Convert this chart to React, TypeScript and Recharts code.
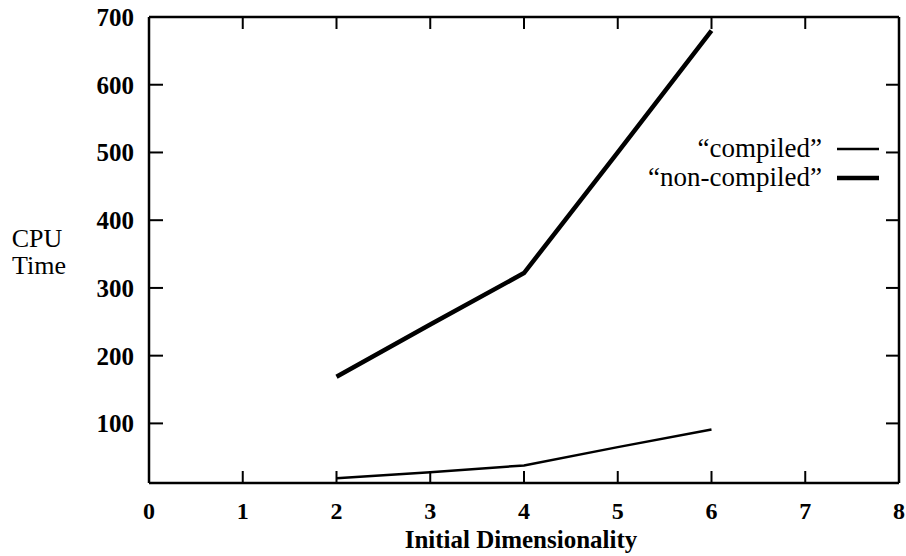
import React from 'react';
import { LineChart, Line, XAxis, YAxis } from 'recharts';

const dims = [2, 3, 4, 5, 6];
const compiled = [19, 28, 38, 65, 91];
const nonCompiled = [169, 246, 322, 500, 680];
const xTicks = [0, 1, 2, 3, 4, 5, 6, 7, 8];
const yTicks = [100, 200, 300, 400, 500, 600, 700];
const seriesNames = ['\u201Ccompiled\u201D', '\u201Cnon-compiled\u201D'];
const xTitle = 'Initial Dimensionality';
const yTitle = ['CPU', 'Time'];

const data = dims.map((d, i) => ({ dim: d, compiled: compiled[i], nonCompiled: nonCompiled[i] }));

const FONT = '"Liberation Serif", "Times New Roman", serif';

const BottomTick = (props: any) => {
  const { x, y, payload } = props;
  return (
    <g>
      <line x1={x} x2={x} y1={y} y2={y - 12} stroke="#000" strokeWidth={2} />
      <text x={x} y={y + 36} textAnchor="middle" fontFamily={FONT} fontWeight="bold" fontSize={24} fill="#000">
        {payload.value}
      </text>
    </g>
  );
};

const TopTick = (props: any) => {
  const { x, y } = props;
  return <line x1={x} x2={x} y1={y} y2={y + 12} stroke="#000" strokeWidth={2} />;
};

const LeftTick = (props: any) => {
  const { x, y, payload } = props;
  return (
    <g>
      <line x1={x} x2={x + 14} y1={y} y2={y} stroke="#000" strokeWidth={2} />
      <text x={x - 15} y={y + 9} textAnchor="end" fontFamily={FONT} fontWeight="bold" fontSize={25} fill="#000">
        {payload.value}
      </text>
    </g>
  );
};

const RightTick = (props: any) => {
  const { x, y } = props;
  return <line x1={x} x2={x - 13} y1={y} y2={y} stroke="#000" strokeWidth={2} />;
};

const axisLine = { stroke: '#000', strokeWidth: 2.5 };

export default function App() {
  return (
    <div style={{ position: 'absolute', left: 0, top: 0, width: 906, height: 556, background: '#fff' }}>
      <LineChart width={906} height={556} data={data} margin={{ top: 16, right: 6, bottom: 72, left: 148 }}>
        <XAxis
          dataKey="dim"
          type="number"
          domain={[0, 8]}
          ticks={xTicks}
          interval={0}
          height={1}
          tickSize={0}
          tickMargin={0}
          tickLine={false}
          axisLine={axisLine}
          tick={BottomTick}
        />
        <XAxis
          xAxisId="top"
          orientation="top"
          dataKey="dim"
          type="number"
          domain={[0, 8]}
          ticks={xTicks}
          interval={0}
          height={1}
          tickSize={0}
          tickMargin={0}
          tickLine={false}
          axisLine={axisLine}
          tick={TopTick}
        />
        <YAxis
          type="number"
          domain={[12, 700]}
          allowDataOverflow
          ticks={yTicks}
          interval={0}
          width={1}
          tickSize={0}
          tickMargin={0}
          tickLine={false}
          axisLine={axisLine}
          tick={LeftTick}
        />
        <YAxis
          yAxisId="right"
          orientation="right"
          type="number"
          domain={[12, 700]}
          allowDataOverflow
          ticks={yTicks}
          interval={0}
          width={1}
          tickSize={0}
          tickMargin={0}
          tickLine={false}
          axisLine={axisLine}
          tick={RightTick}
        />
        <Line
          dataKey="compiled"
          name={seriesNames[0]}
          stroke="#000"
          strokeWidth={2.5}
          dot={false}
          isAnimationActive={false}
        />
        <Line
          dataKey="nonCompiled"
          name={seriesNames[1]}
          stroke="#000"
          strokeWidth={4.5}
          dot={false}
          isAnimationActive={false}
        />
      </LineChart>
      <svg width={906} height={556} style={{ position: 'absolute', left: 0, top: 0, pointerEvents: 'none' }}>
        <text x={37} y={247} textAnchor="middle" fontFamily={FONT} fontSize={26} fill="#000">{yTitle[0]}</text>
        <text x={39} y={274} textAnchor="middle" fontFamily={FONT} fontSize={26} fill="#000">{yTitle[1]}</text>
        <text x={521} y={548} textAnchor="middle" fontFamily={FONT} fontWeight="bold" fontSize={25} fill="#000">{xTitle}</text>
        <text x={822} y={157} textAnchor="end" fontFamily={FONT} fontSize={27} fill="#000">{seriesNames[0]}</text>
        <line x1={837} x2={879} y1={149} y2={149} stroke="#000" strokeWidth={2.5} />
        <text x={822} y={186} textAnchor="end" fontFamily={FONT} fontSize={27} fill="#000">{seriesNames[1]}</text>
        <line x1={837} x2={879} y1={178} y2={178} stroke="#000" strokeWidth={4.5} />
      </svg>
    </div>
  );
}
